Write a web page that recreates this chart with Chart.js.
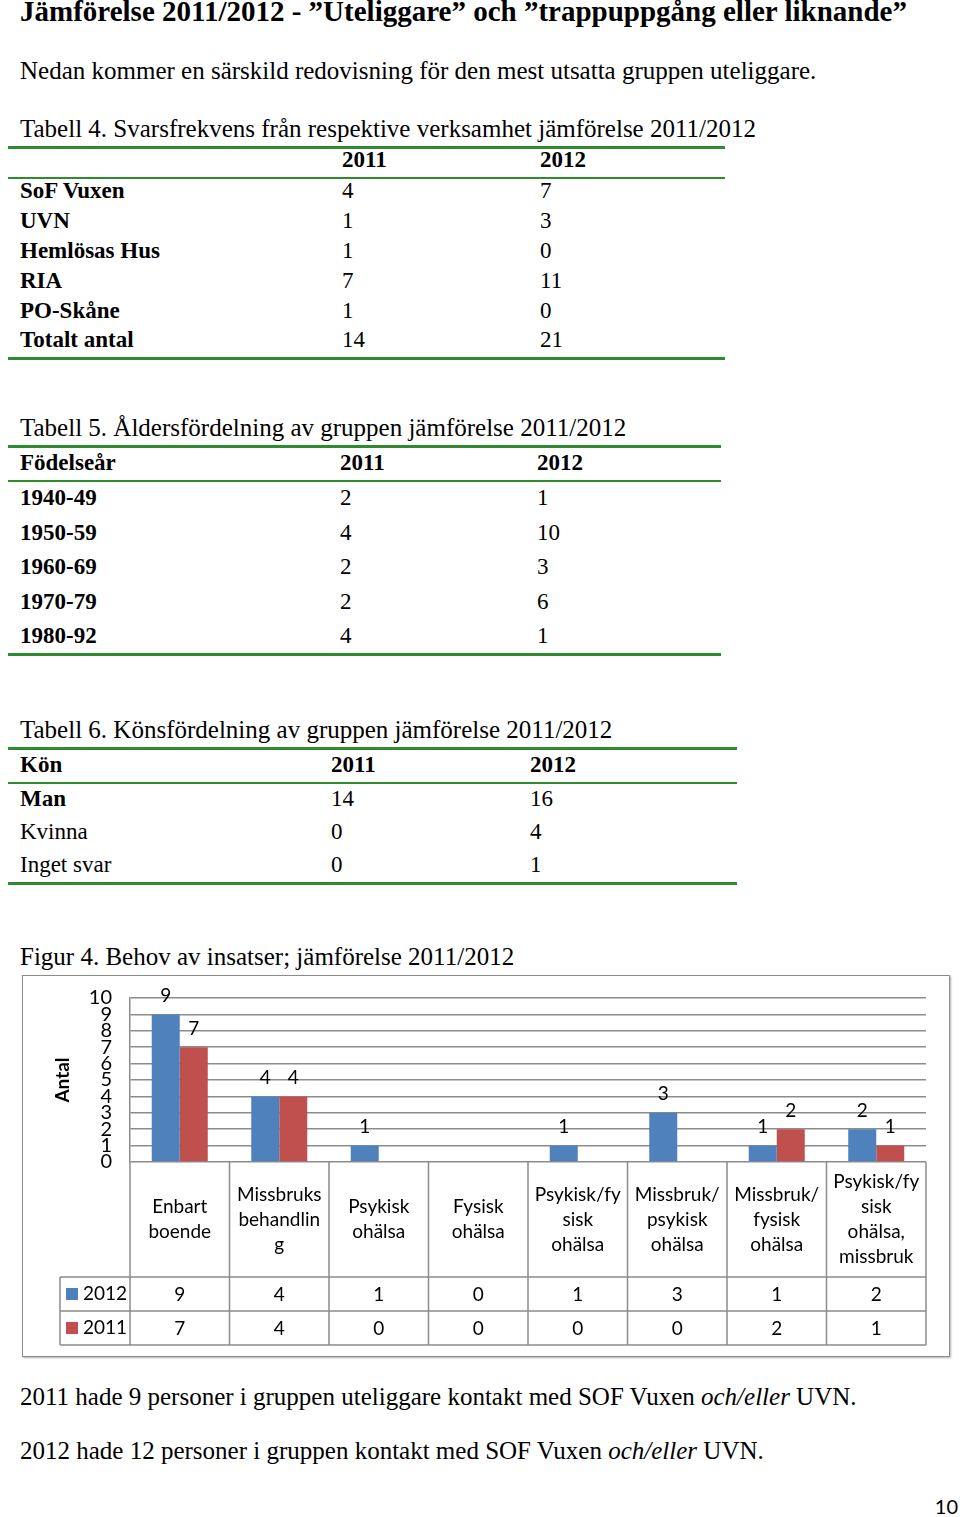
<!DOCTYPE html>
<html>
  <head>
    <meta charset="UTF-8">
    <title>Jämförelse 2011/2012</title>
    <script src="https://cdn.jsdelivr.net/npm/chart.js"></script>
    <style>
      body { margin: 0; width: 960px; height: 1517px; background: #fff; position: relative; overflow: hidden; }
      .t { position: absolute; white-space: nowrap; line-height: 1; font-family: 'Liberation Serif', serif; color: #000; }
      .rule { position: absolute; background: #2e8b2e; }
      #box { position: absolute; left: 22px; top: 975px; width: 926px; height: 380px; border: 1px solid #8c8c8c; box-shadow: 1px 1px 2px #b0b0b0; }
      #chartWrap { position: absolute; left: 22px; top: 975px; width: 928px; height: 382px; }
    </style>
  </head>
  <body>
    <div id="box"></div>
    <div id="chartWrap"><canvas id="barChart" width="928" height="382"></canvas></div>

    <script>
      // Tabell 4
      const t4Labels = ['SoF Vuxen', 'UVN', 'Hemlösas Hus', 'RIA', 'PO-Skåne', 'Totalt antal'];
      const t4Values2011 = [4, 1, 1, 7, 1, 14];
      const t4Values2012 = [7, 3, 0, 11, 0, 21];

      // Tabell 5
      const t5Labels = ['1940-49', '1950-59', '1960-69', '1970-79', '1980-92'];
      const t5Values2011 = [2, 4, 2, 2, 4];
      const t5Values2012 = [1, 10, 3, 6, 1];

      // Tabell 6
      const t6Labels = ['Man', 'Kvinna', 'Inget svar'];
      const t6Values2011 = [14, 0, 0];
      const t6Values2012 = [16, 4, 1];

      // Figur 4
      const categories = [
        ['Enbart', 'boende'],
        ['Missbruks', 'behandlin', 'g'],
        ['Psykisk', 'ohälsa'],
        ['Fysisk', 'ohälsa'],
        ['Psykisk/fy', 'sisk', 'ohälsa'],
        ['Missbruk/', 'psykisk', 'ohälsa'],
        ['Missbruk/', 'fysisk', 'ohälsa'],
        ['Psykisk/fy', 'sisk', 'ohälsa,', 'missbruk']
      ];
      const seriesNames = ['2012', '2011'];
      const values2012 = [9, 4, 1, 0, 1, 3, 1, 2];
      const values2011 = [7, 4, 0, 0, 0, 0, 2, 1];
      const seriesColors = ['#4f81bd', '#c0504d'];

      // small helpers for the page text
      function text(str, x, y, size, weight) {
        const d = document.createElement('div');
        d.className = 't';
        d.style.left = x + 'px';
        d.style.top = (y - size * 0.55) + 'px';
        d.style.fontSize = size + 'px';
        if (weight) d.style.fontWeight = weight;
        d.innerHTML = str;
        document.body.appendChild(d);
      }
      function rule(x1, x2, y, h) {
        const d = document.createElement('div');
        d.className = 'rule';
        d.style.left = x1 + 'px';
        d.style.width = (x2 - x1) + 'px';
        d.style.top = (y - h / 2) + 'px';
        d.style.height = h + 'px';
        document.body.appendChild(d);
      }
      function table(caption, capY, right, headY, head0, c1, c2, rowY, step, labels, v1, v2, boldRows) {
        text(caption, 20, capY, 25);
        rule(8, right, capY + 17, 3);
        if (head0) text(head0, 20, headY, 23, 'bold');
        text('2011', c1, headY, 23, 'bold');
        text('2012', c2, headY, 23, 'bold');
        rule(8, right, headY + 17, 2);
        labels.forEach((lab, i) => {
          const y = rowY + i * step;
          text(lab, 20, y, 23, boldRows[i] ? 'bold' : null);
          text(String(v1[i]), c1, y, 23);
          text(String(v2[i]), c2, y, 23);
        });
        rule(8, right, rowY + (labels.length - 1) * step + 17, 3);
      }

      text('Jämförelse 2011/2012 - ”Uteliggare” och ”trappuppgång eller liknande”', 20, 13, 29, 'bold');
      text('Nedan kommer en särskild redovisning för den mest utsatta gruppen uteliggare.', 20, 72, 25);

      table('Tabell 4. Svarsfrekvens från respektive verksamhet jämförelse 2011/2012', 130, 725,
        161, '', 342, 540, 192, 29.8, t4Labels, t4Values2011, t4Values2012, [1, 1, 1, 1, 1, 1]);
      table('Tabell 5. Åldersfördelning av gruppen jämförelse 2011/2012', 429, 721,
        464, 'Födelseår', 340, 537, 499, 34.5, t5Labels, t5Values2011, t5Values2012, [1, 1, 1, 1, 1]);
      table('Tabell 6. Könsfördelning av gruppen jämförelse 2011/2012', 731, 737,
        766, 'Kön', 331, 530, 800, 33, t6Labels, t6Values2011, t6Values2012, [1, 0, 0]);

      text('Figur 4. Behov av insatser; jämförelse 2011/2012', 20, 958, 25);
      text('2011 hade 9 personer i gruppen uteliggare kontakt med SOF Vuxen <i>och/eller</i> UVN.', 20, 1398, 25);
      text('2012 hade 12 personer i gruppen kontakt med SOF Vuxen <i>och/eller</i> UVN.', 20, 1452, 25);

      const pageNo = document.createElement('div');
      pageNo.className = 't';
      pageNo.style.cssText = 'right:2px;top:1496px;font-family:Lato,sans-serif;font-size:20px;';
      pageNo.textContent = '10';
      document.body.appendChild(pageNo);

      const chartFont = 'Lato, sans-serif';
      const gridColor = '#8c8c8c';

      // value labels above the bars (zeros are left out)
      const barLabels = {
        id: 'barLabels',
        afterDatasetsDraw(chart) {
          const ctx = chart.ctx;
          ctx.save();
          ctx.font = '19px ' + chartFont;
          ctx.fillStyle = '#000';
          ctx.textAlign = 'center';
          ctx.textBaseline = 'bottom';
          chart.data.datasets.forEach((ds, i) => {
            chart.getDatasetMeta(i).data.forEach((bar, j) => {
              if (ds.data[j] > 0) ctx.fillText(String(ds.data[j]), bar.x, bar.y - 9);
            });
          });
          ctx.restore();
        }
      };

      // data table under the plot, laid out on the category scale
      const dataTable = {
        id: 'dataTable',
        afterDraw(chart) {
          const ctx = chart.ctx;
          const area = chart.chartArea;
          const xs = chart.scales.x;
          const w = (area.right - area.left) / categories.length;
          const row1 = 302, row2 = 336, row3 = 370, keyLeft = 38;
          ctx.save();
          ctx.strokeStyle = gridColor;
          ctx.lineWidth = 1.5;
          ctx.beginPath();
          for (let i = 0; i <= categories.length; i++) {
            const x = area.left + i * w;
            ctx.moveTo(x, area.bottom);
            ctx.lineTo(x, row3);
          }
          [row1, row2, row3].forEach(y => {
            ctx.moveTo(keyLeft, y);
            ctx.lineTo(area.right, y);
          });
          ctx.moveTo(keyLeft, row1);
          ctx.lineTo(keyLeft, row3);
          ctx.stroke();

          ctx.font = '19px ' + chartFont;
          ctx.fillStyle = '#000';
          ctx.textAlign = 'center';
          ctx.textBaseline = 'middle';
          const mid = (area.bottom + row1) / 2;
          categories.forEach((lines, i) => {
            const cx = xs.getPixelForValue(i);
            lines.forEach((ln, k) => {
              ctx.fillText(ln, cx, mid + (k - (lines.length - 1) / 2) * 25);
            });
          });
          chart.data.datasets.forEach((ds, r) => {
            const cy = r === 0 ? (row1 + row2) / 2 : (row2 + row3) / 2;
            ds.data.forEach((v, i) => {
              ctx.fillText(String(v), xs.getPixelForValue(i), cy + 1);
            });
            ctx.fillStyle = seriesColors[r];
            ctx.fillRect(44, cy - 6, 12, 12);
            ctx.fillStyle = '#000';
            ctx.textAlign = 'left';
            ctx.fillText(ds.label, 61, cy);
            ctx.textAlign = 'center';
          });
          ctx.restore();
        }
      };

      new Chart(document.getElementById('barChart'), {
        type: 'bar',
        data: {
          labels: categories,
          datasets: [
            { label: seriesNames[0], data: values2012, backgroundColor: seriesColors[0] },
            { label: seriesNames[1], data: values2011, backgroundColor: seriesColors[1] }
          ]
        },
        options: {
          responsive: false,
          animation: false,
          categoryPercentage: 0.563,
          barPercentage: 1,
          layout: { padding: { top: 23, right: 24, bottom: 195, left: 0 } },
          plugins: { legend: { display: false }, tooltip: { enabled: false } },
          scales: {
            x: { display: false },
            y: {
              min: 0,
              max: 10,
              afterFit(scale) {
                scale.width = 108;
                scale.paddingTop = 0;
                scale.paddingBottom = 0;
              },
              ticks: { stepSize: 1, autoSkip: false, padding: 18, color: '#000', font: { family: chartFont, size: 20 } },
              grid: { color: gridColor, lineWidth: 1.5, drawTicks: false },
              border: { color: gridColor, width: 1.5 },
              title: { display: true, text: 'Antal', color: '#000', padding: { top: 29 }, font: { family: chartFont, size: 19, weight: 'bold' } }
            }
          }
        },
        plugins: [barLabels, dataTable]
      });
    </script>
  </body>
</html>
